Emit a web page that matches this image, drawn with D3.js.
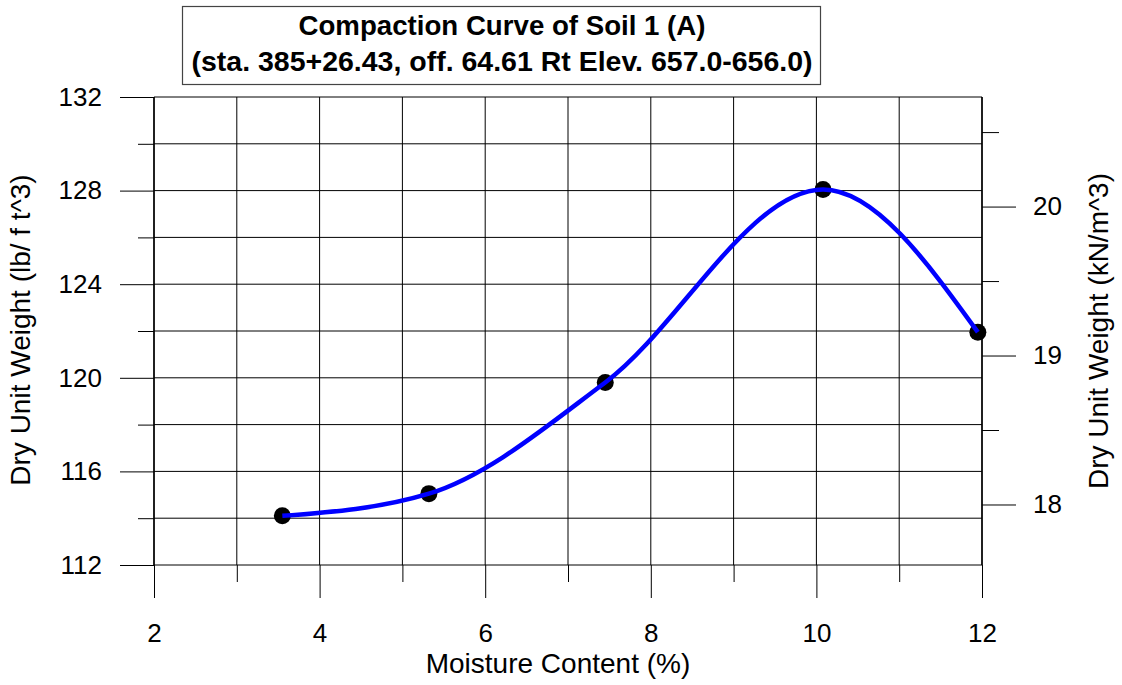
<!DOCTYPE html>
<meta charset="utf-8">
<style>
body { margin: 0; background: #fff; }
text { font-family: "Liberation Sans", Arial, sans-serif; fill: #000; }
.grid line { stroke: #000; stroke-width: 1; }
.axis path { display: none; }
.axis line { stroke: #000; stroke-width: 1; }
</style>
<body>
<script src="https://cdn.jsdelivr.net/npm/d3@7"></script>
<script>
var width = 1122, height = 685;

// data
var moisture = [3.55, 5.32, 7.45, 10.08, 11.95];
var dryWeight = [114.1, 115.05, 119.8, 128.05, 121.95];

var xMajor = [2, 4, 6, 8, 10, 12];
var xMinor = [3, 5, 7, 9, 11];
var yMajor = [112, 116, 120, 124, 128, 132];
var yMinor = [114, 118, 122, 126, 130];
var kMajor = [18, 19, 20];
var kMinor = [18.5, 19.5, 20.5];

var titleLines = ["Compaction Curve of Soil 1 (A)", "(sta. 385+26.43, off. 64.61 Rt Elev. 657.0-656.0)"];
var pcfToKn = 0.1570875;

var svg = d3.select("body").append("svg")
    .attr("width", width)
    .attr("height", height);

var x = d3.scaleLinear().domain([2, 12]).range([154, 982]);
var y = d3.scaleLinear().domain([112, 132]).range([565, 97]);
var yk = d3.scaleLinear().domain([112 * pcfToKn, 132 * pcfToKn]).range([565, 97]);

// grid
var grid = svg.append("g").attr("class", "grid");
grid.selectAll(".h").data(d3.range(112, 133, 2)).enter().append("line")
    .attr("x1", x(2)).attr("x2", x(12))
    .attr("y1", function(d) { return y(d); })
    .attr("y2", function(d) { return y(d); });
grid.selectAll(".v").data(d3.range(2, 13, 1)).enter().append("line")
    .attr("y1", y(112)).attr("y2", y(132))
    .attr("x1", function(d) { return x(d); })
    .attr("x2", function(d) { return x(d); });

// left axis
svg.append("g").attr("class", "axis")
    .attr("transform", "translate(" + x(2) + ",0)")
    .call(d3.axisLeft(y).tickValues(yMajor).tickSize(34).tickPadding(18))
    .selectAll("text").style("font-size", "26px");
svg.append("g").attr("class", "axis")
    .attr("transform", "translate(" + x(2) + ",0)")
    .call(d3.axisLeft(y).tickValues(yMinor).tickSize(16).tickFormat(""));

// bottom axis
svg.append("g").attr("class", "axis")
    .attr("transform", "translate(0," + y(112) + ")")
    .call(d3.axisBottom(x).tickValues(xMajor).tickSize(33).tickPadding(26))
    .selectAll("text").style("font-size", "26px");
svg.append("g").attr("class", "axis")
    .attr("transform", "translate(0," + y(112) + ")")
    .call(d3.axisBottom(x).tickValues(xMinor).tickSize(17).tickFormat(""));

// right axis kN/m^3
svg.append("g").attr("class", "axis")
    .attr("transform", "translate(" + x(12) + ",0)")
    .call(d3.axisRight(yk).tickValues(kMajor).tickSize(34).tickPadding(17).tickFormat(d3.format("d")))
    .selectAll("text").style("font-size", "26px");
svg.append("g").attr("class", "axis")
    .attr("transform", "translate(" + x(12) + ",0)")
    .call(d3.axisRight(yk).tickValues(kMinor).tickSize(17).tickFormat(""));

// frame left/right
svg.append("line").attr("x1", x(2)).attr("x2", x(2)).attr("y1", y(132)).attr("y2", y(112))
    .attr("stroke", "#000").attr("stroke-width", 1.5);
svg.append("line").attr("x1", x(12)).attr("x2", x(12)).attr("y1", y(132)).attr("y2", y(112))
    .attr("stroke", "#000").attr("stroke-width", 1.5);

// points then curve on top
var pts = moisture.map(function(m, i) { return [m, dryWeight[i]]; });
svg.append("g").selectAll("circle").data(pts).enter().append("circle")
    .attr("cx", function(d) { return x(d[0]); })
    .attr("cy", function(d) { return y(d[1]); })
    .attr("r", 8.5)
    .attr("fill", "#000");

var line = d3.line()
    .x(function(d) { return x(d[0]); })
    .y(function(d) { return y(d[1]); })
    .curve(d3.curveMonotoneX);
svg.append("path").datum(pts)
    .attr("d", line)
    .attr("fill", "none")
    .attr("stroke", "#0000ff")
    .attr("stroke-width", 4.5);

// axis titles
svg.append("text")
    .attr("x", 558).attr("y", 673)
    .attr("text-anchor", "middle")
    .style("font-size", "28px")
    .text("Moisture Content (%)");
svg.append("text")
    .attr("transform", "translate(30,330) rotate(-90)")
    .attr("text-anchor", "middle")
    .style("font-size", "28px")
    .text("Dry Unit Weight (lb/ f t^3)");
svg.append("text")
    .attr("transform", "translate(1108,331) rotate(-90)")
    .attr("text-anchor", "middle")
    .style("font-size", "28px")
    .text("Dry Unit Weight (kN/m^3)");

// title box
svg.append("rect")
    .attr("x", 182.5).attr("y", 6.5)
    .attr("width", 638).attr("height", 78)
    .attr("fill", "#fff")
    .attr("stroke", "#444")
    .attr("stroke-width", 1.2);
var titleW = [407, 621];
var titleY = [35, 71];
svg.selectAll(".title").data(titleLines).enter().append("text")
    .attr("class", "title")
    .attr("x", function(d, i) { return 502 - titleW[i] / 2; })
    .attr("y", function(d, i) { return titleY[i]; })
    .attr("textLength", function(d, i) { return titleW[i]; })
    .attr("lengthAdjust", "spacingAndGlyphs")
    .style("font-size", "28px")
    .style("font-weight", "bold")
    .text(function(d) { return d; });
</script>
</body>
</html>
